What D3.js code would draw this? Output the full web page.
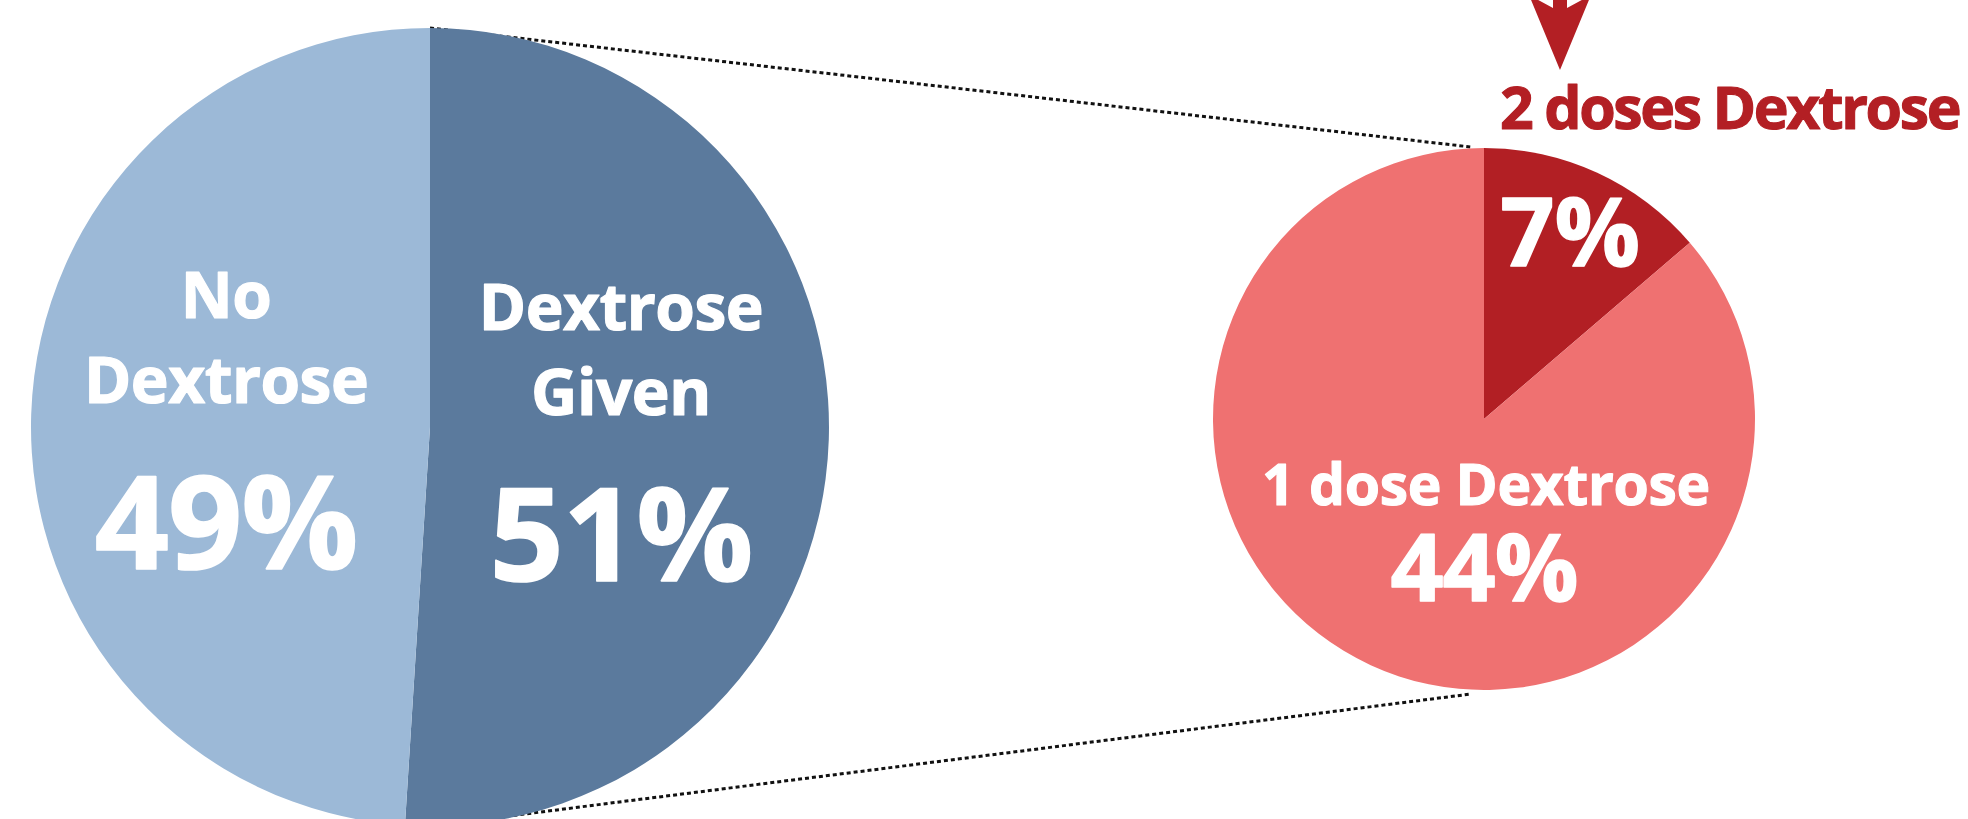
<!DOCTYPE html>
<html>
<head>
<meta charset="utf-8">
<script src="https://cdn.jsdelivr.net/npm/d3@7"></script>
<style>
  html, body { margin: 0; padding: 0; background: #fff; overflow: hidden; }
  svg { display: block; }
  text { font-family: "Open Sans", "Noto Sans", sans-serif; font-weight: 700; }
</style>
</head>
<body>
<svg width="1968" height="819"></svg>
<script>
// left pie: all patients
const mainCategories = ["Dextrose Given", "No Dextrose"];
const mainValues = [51, 49];
const mainLabels = [["Dextrose", "Given"], ["No", "Dextrose"]];
const mainColors = ["#5b7a9d", "#9cb9d7"];

// right pie: breakdown of "Dextrose Given"
const doseCategories = ["2 doses Dextrose", "1 dose Dextrose"];
const doseValues = [7, 44];
const doseColors = ["#b21f24", "#ef7171"];

const svg = d3.select("svg");
const width = +svg.attr("width");
const height = +svg.attr("height");

// geometry
const L = { cx: 430, cy: 427, r: 399 };
const R = { cx: 1484, cy: 419, r: 271 };

const pie = d3.pie().sort(null).value(d => d.value);

// dotted connector lines (drawn first, under the pies)
const connectors = [
  [[L.cx, L.cy - L.r], [R.cx - 13, R.cy - R.r - 1]],
  [[L.cx, L.cy + L.r], [R.cx - 13, R.cy + R.r + 4]]
];
svg.append("g").selectAll("line")
  .data(connectors)
  .enter()
  .append("line")
  .attr("x1", d => d[0][0]).attr("y1", d => d[0][1])
  .attr("x2", d => d[1][0]).attr("y2", d => d[1][1])
  .attr("stroke", "#111")
  .attr("stroke-width", 3)
  .attr("stroke-dasharray", "4,3");

// thicker glyphs, closer to the original heavy face
function heavy(sel, color, w) {
  sel.attr("fill", color).attr("stroke", color).attr("stroke-width", w).attr("stroke-linejoin", "round");
}

// ---- left pie
const mainData = mainCategories.map((c, i) => ({ name: c, value: mainValues[i], lines: mainLabels[i], color: mainColors[i] }));
const arcL = d3.arc().innerRadius(0).outerRadius(L.r);
const labelArcL = d3.arc().innerRadius(200).outerRadius(200);

const gL = svg.append("g").attr("transform", `translate(${L.cx},${L.cy})`);
const slicesL = pie(mainData);

gL.selectAll("path")
  .data(slicesL)
  .enter()
  .append("path")
  .attr("d", arcL)
  .attr("fill", d => d.data.color);

slicesL.forEach(s => {
  const c = labelArcL.centroid(s);
  const x = c[0] < 0 ? c[0] - 4 : c[0] - 9;
  const t = gL.append("g").attr("transform", `translate(${x},${c[1]})`);
  t.selectAll("text.word")
    .data(s.data.lines)
    .enter()
    .append("text")
    .attr("class", "word")
    .attr("text-anchor", "middle")
    .attr("y", (d, i) => -103 + i * 85)
    .attr("font-size", 64)
    .attr("letter-spacing", -0.5)
    .text(d => d)
    .call(heavy, "#fff", 1.2);
  t.append("text")
    .attr("text-anchor", "middle")
    .attr("y", 148)
    .attr("font-size", 130)
    .attr("letter-spacing", -1)
    .text(s.data.value + "%")
    .call(heavy, "#fff", 1.6);
});

// ---- right pie
const doseData = doseCategories.map((c, i) => ({ name: c, value: doseValues[i], color: doseColors[i] }));
const arcR = d3.arc().innerRadius(0).outerRadius(R.r);
const labelArcR = d3.arc().innerRadius(206).outerRadius(206);

const gR = svg.append("g").attr("transform", `translate(${R.cx},${R.cy})`);
const slicesR = pie(doseData);

gR.selectAll("path")
  .data(slicesR)
  .enter()
  .append("path")
  .attr("d", arcR)
  .attr("fill", d => d.data.color);

// small slice: percentage inside
const cSmall = labelArcR.centroid(slicesR[0]);
gR.append("text")
  .attr("x", cSmall[0])
  .attr("y", cSmall[1] + 34)
  .attr("text-anchor", "middle")
  .attr("font-size", 95)
  .text(slicesR[0].data.value + "%")
  .call(heavy, "#fff", 1.4);

// big slice: name + percentage below centre
gR.append("text")
  .attr("x", 2)
  .attr("y", 86)
  .attr("text-anchor", "middle")
  .attr("font-size", 57)
  .attr("letter-spacing", -0.3)
  .text(slicesR[1].data.name)
  .call(heavy, "#fff", 1.1);
gR.append("text")
  .attr("x", 0)
  .attr("y", 182)
  .attr("text-anchor", "middle")
  .attr("font-size", 93)
  .attr("letter-spacing", -1)
  .text(slicesR[1].data.value + "%")
  .call(heavy, "#fff", 1.4);

// callout for the small slice, above the pie
const callout = svg.append("g");
callout.append("text")
  .attr("x", 1500)
  .attr("y", 129)
  .attr("font-size", 59)
  .attr("letter-spacing", -2.4)
  .text(doseCategories[0])
  .call(heavy, "#b31f24", 1.1);

// arrow pointing down at the callout
const ax = 1560, tip = 70;
const p = d3.path();
p.moveTo(ax - 7, -20);
p.lineTo(ax - 7, 8);
p.lineTo(ax - 31, -5);
p.lineTo(ax, tip);
p.lineTo(ax + 31, -5);
p.lineTo(ax + 7, 8);
p.lineTo(ax + 7, -20);
p.closePath();
callout.append("path")
  .attr("d", p.toString())
  .attr("fill", "#b31f24");
</script>
</body>
</html>
